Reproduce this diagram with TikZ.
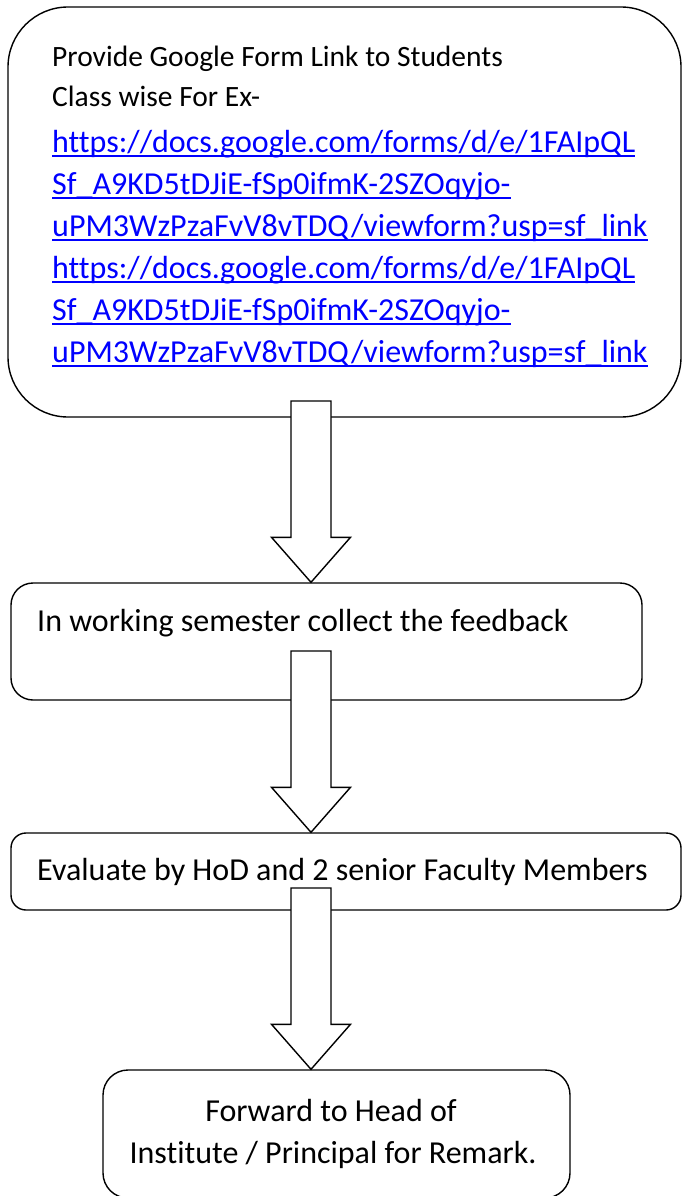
\documentclass[tikz,border=0pt]{standalone}
\usepackage{fontspec}
\setmainfont{Carlito}[Ligatures={NoCommon,NoContextual}]
\usetikzlibrary{calc}
\definecolor{linkblue}{RGB}{0,0,255}
\newcommand{\weblink}[1]{\setbox0=\hbox{#1}\rlap{\rule[-5pt]{\wd0}{1.6pt}}\box0}
\tikzset{
  stage/.style={draw, line width=1.4pt, rounded corners=#1, inner sep=0pt},
  steptext/.style={anchor=base west, inner sep=0pt, font=\fontsize{32}{38}\selectfont},
  smalltext/.style={steptext, font=\fontsize{29.5}{35}\selectfont},
  linktext/.style={steptext, text=linkblue},
  hollow/.style={draw, fill=white, line width=1.4pt, line join=miter,
    to path={let \p1=(\tikztostart), \p2=(\tikztotarget) in
      (\x1-20pt,\y1) -- (\x1+20pt,\y1) -- (\x1+20pt,\y2+45pt) -- (\x1+39.5pt,\y2+45pt)
      -- (\x1,\y2) -- (\x1-39.5pt,\y2+45pt) -- (\x1-20pt,\y2+45pt) -- cycle}}
}
\begin{document}
\begin{tikzpicture}[x=1pt, y=-1pt]
  \useasboundingbox (0,0) rectangle (681,1196);
  % boxes
  \node[stage=60pt, minimum width=673pt, minimum height=410pt] (form) at (344.5,212) {};
  \node[stage=22pt, minimum width=631pt, minimum height=117pt] (collect) at (326.5,641.5) {};
  \node[stage=15pt, minimum width=670pt, minimum height=77pt] (evaluate) at (346,871.5) {};
  \node[stage=25pt, minimum width=467pt, minimum height=128pt] (forward) at (336.5,1134) {};
  % texts
  \node[smalltext] (intro1) at (52,67) {Provide Google Form Link to Students};
  \node[smalltext] (intro2) at (52,107) {Class wise For Ex-};
  \foreach \k in {0,1}{
    \node[linktext] (url\k-1) at (52,152+126*\k) {\weblink{https://docs.google.com/forms/d/e/1FAIpQL}};
    \node[linktext] (url\k-2) at (52,194+126*\k) {\weblink{Sf\_A9KD5tDJiE-fSp0ifmK-2SZOqyjo-}};
    \node[linktext] (url\k-3) at (52,236+126*\k) {\weblink{uPM3WzPzaFvV8vTDQ/viewform?usp=sf\_link}};
  }
  \node[steptext] (collecttext) at (37,631) {In working semester collect the feedback};
  \node[steptext] (evaltext) at (37,880) {Evaluate by HoD and 2 senior Faculty Members};
  \node[steptext, anchor=base] (fwd1) at (331,1121) {Forward to Head of};
  \node[steptext, anchor=base] (fwd2) at (333,1163) {Institute / Principal for Remark.};
  % arrows
  \coordinate (a1) at (311,401);
  \coordinate (a2) at (311,651);
  \coordinate (a3) at (311,888);
  \draw[hollow] (a1) to (a1 |- collect.north);
  \draw[hollow] (a2) to (a2 |- evaluate.north);
  \draw[hollow] (a3) to (a3 |- forward.north);
\end{tikzpicture}
\end{document}
